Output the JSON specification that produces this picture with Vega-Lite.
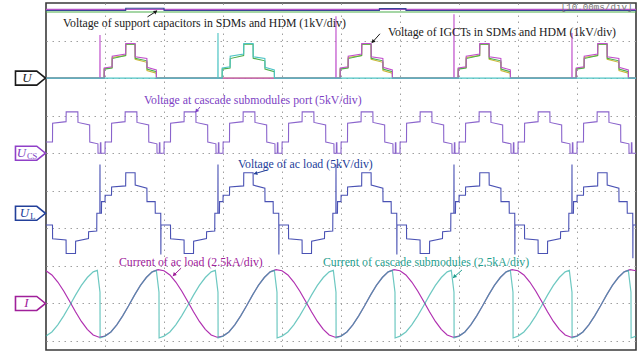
{
 "$schema": "https://vega.github.io/schema/vega-lite/v6.json",
 "width": 590, "height": 347,
 "autosize": {"type": "none"},
 "padding": {"left": 46, "top": 3, "right": 5, "bottom": 4},
 "background": "white",
 "config": {"view": {"stroke": "#3a3a3a", "strokeWidth": 1.6}},
 "datasets": {
  "cap_grn": [{"t":0,"v":8.76},{"t":100,"v":8.76}],
  "cap_pur": [{"t":0,"v":8.83},{"t":100,"v":8.83}],
  "cap_navy": [{"t":0,"v":8.8},{"t":13.5,"v":8.8},{"t":13.52,"v":8.86},{"t":20,"v":8.86},{"t":20.02,"v":8.8},{"t":56.5,"v":8.8},{"t":56.52,"v":8.85},{"t":61,"v":8.85},{"t":61.02,"v":8.8},{"t":100,"v":8.8}],
  "u_yel": [{"t":0,"v":7},
   {"t":9.85,"v":7},{"t":9.87,"v":7.25},{"t":11.2,"v":7.28},{"t":11.22,"v":7.55},{"t":13.5,"v":7.6},{"t":13.52,"v":7.9},{"t":15.1,"v":7.9},{"t":15.12,"v":7.5},{"t":17.1,"v":7.42},{"t":17.12,"v":7.2},{"t":18.7,"v":7.13},{"t":18.72,"v":7},
   {"t":49.85,"v":7},{"t":49.87,"v":7.25},{"t":51.2,"v":7.28},{"t":51.22,"v":7.55},{"t":53.5,"v":7.6},{"t":53.52,"v":7.9},{"t":55.1,"v":7.9},{"t":55.12,"v":7.5},{"t":57.1,"v":7.42},{"t":57.12,"v":7.2},{"t":58.7,"v":7.13},{"t":58.72,"v":7},
   {"t":69.85,"v":7},{"t":69.87,"v":7.25},{"t":71.2,"v":7.28},{"t":71.22,"v":7.55},{"t":73.5,"v":7.6},{"t":73.52,"v":7.9},{"t":75.1,"v":7.9},{"t":75.12,"v":7.5},{"t":77.1,"v":7.42},{"t":77.12,"v":7.2},{"t":78.7,"v":7.13},{"t":78.72,"v":7},
   {"t":89.85,"v":7},{"t":89.87,"v":7.25},{"t":91.2,"v":7.28},{"t":91.22,"v":7.55},{"t":93.5,"v":7.6},{"t":93.52,"v":7.9},{"t":95.1,"v":7.9},{"t":95.12,"v":7.5},{"t":97.1,"v":7.42},{"t":97.12,"v":7.2},{"t":98.7,"v":7.13},{"t":98.72,"v":7},
   {"t":100,"v":7}],
  "u_grn": [{"t":0,"v":7},
   {"t":9.85,"v":7},{"t":9.87,"v":7.24},{"t":11.2,"v":7.27},{"t":11.22,"v":7.52},{"t":13.5,"v":7.6},{"t":13.52,"v":7.9},{"t":15.1,"v":7.9},{"t":15.12,"v":7.53},{"t":17.1,"v":7.46},{"t":17.12,"v":7.24},{"t":18.7,"v":7.17},{"t":18.72,"v":7},
   {"t":29.85,"v":7},{"t":29.87,"v":7.24},{"t":31.2,"v":7.27},{"t":31.22,"v":7.52},{"t":33.5,"v":7.6},{"t":33.52,"v":7.9},{"t":35.1,"v":7.9},{"t":35.12,"v":7.53},{"t":37.1,"v":7.46},{"t":37.12,"v":7.24},{"t":38.7,"v":7.17},{"t":38.72,"v":7},
   {"t":49.85,"v":7},{"t":49.87,"v":7.24},{"t":51.2,"v":7.27},{"t":51.22,"v":7.52},{"t":53.5,"v":7.6},{"t":53.52,"v":7.9},{"t":55.1,"v":7.9},{"t":55.12,"v":7.53},{"t":57.1,"v":7.46},{"t":57.12,"v":7.24},{"t":58.7,"v":7.17},{"t":58.72,"v":7},
   {"t":69.85,"v":7},{"t":69.87,"v":7.24},{"t":71.2,"v":7.27},{"t":71.22,"v":7.52},{"t":73.5,"v":7.6},{"t":73.52,"v":7.9},{"t":75.1,"v":7.9},{"t":75.12,"v":7.53},{"t":77.1,"v":7.46},{"t":77.12,"v":7.24},{"t":78.7,"v":7.17},{"t":78.72,"v":7},
   {"t":89.85,"v":7},{"t":89.87,"v":7.24},{"t":91.2,"v":7.27},{"t":91.22,"v":7.52},{"t":93.5,"v":7.6},{"t":93.52,"v":7.9},{"t":95.1,"v":7.9},{"t":95.12,"v":7.53},{"t":97.1,"v":7.46},{"t":97.12,"v":7.24},{"t":98.7,"v":7.17},{"t":98.72,"v":7},
   {"t":100,"v":7}],
  "u_pur": [{"t":0,"v":7},
   {"t":9.13,"v":7},{"t":9.15,"v":8.15},{"t":9.17,"v":7},{"t":9.85,"v":7},{"t":9.87,"v":7.27},{"t":11.2,"v":7.3},{"t":11.22,"v":7.58},{"t":13.5,"v":7.64},{"t":13.52,"v":7.92},{"t":15.1,"v":7.92},{"t":15.12,"v":7.57},{"t":17.1,"v":7.52},{"t":17.12,"v":7.29},{"t":18.7,"v":7.22},{"t":18.72,"v":7},
   {"t":49.13,"v":7},{"t":49.15,"v":8.65},{"t":49.17,"v":7},{"t":49.85,"v":7},{"t":49.87,"v":7.27},{"t":51.2,"v":7.3},{"t":51.22,"v":7.58},{"t":53.5,"v":7.64},{"t":53.52,"v":7.92},{"t":55.1,"v":7.92},{"t":55.12,"v":7.57},{"t":57.1,"v":7.52},{"t":57.12,"v":7.29},{"t":58.7,"v":7.22},{"t":58.72,"v":7},
   {"t":69.13,"v":7},{"t":69.15,"v":8.7},{"t":69.17,"v":7},{"t":69.85,"v":7},{"t":69.87,"v":7.27},{"t":71.2,"v":7.3},{"t":71.22,"v":7.58},{"t":73.5,"v":7.64},{"t":73.52,"v":7.92},{"t":75.1,"v":7.92},{"t":75.12,"v":7.57},{"t":77.1,"v":7.52},{"t":77.12,"v":7.29},{"t":78.7,"v":7.22},{"t":78.72,"v":7},
   {"t":89.13,"v":7},{"t":89.15,"v":8.2},{"t":89.17,"v":7},{"t":89.85,"v":7},{"t":89.87,"v":7.27},{"t":91.2,"v":7.3},{"t":91.22,"v":7.58},{"t":93.5,"v":7.64},{"t":93.52,"v":7.92},{"t":95.1,"v":7.92},{"t":95.12,"v":7.57},{"t":97.1,"v":7.52},{"t":97.12,"v":7.29},{"t":98.7,"v":7.22},{"t":98.72,"v":7},
   {"t":100,"v":7}],
  "u_teal": [{"t":0,"v":7},
   {"t":29.13,"v":7},{"t":29.15,"v":8.2},{"t":29.17,"v":7},{"t":29.85,"v":7},{"t":29.87,"v":7.27},{"t":31.2,"v":7.3},{"t":31.22,"v":7.58},{"t":33.5,"v":7.64},{"t":33.52,"v":7.92},{"t":35.1,"v":7.92},{"t":35.12,"v":7.57},{"t":37.1,"v":7.52},{"t":37.12,"v":7.29},{"t":38.7,"v":7.22},{"t":38.72,"v":7},
   {"t":100,"v":7}],
  "ucs": [
   {"t":0,"v":5.3},{"t":1.1,"v":5.3},{"t":1.12,"v":5.8},{"t":3.4,"v":5.84},{"t":3.42,"v":6.1},{"t":5.4,"v":6.1},{"t":5.42,"v":5.82},{"t":7.4,"v":5.75},{"t":7.42,"v":5.3},{"t":8.8,"v":5.25},{"t":8.82,"v":5},{"t":9.2,"v":5},{"t":9.22,"v":5.28},{"t":9.3,"v":5.28},{"t":9.32,"v":5},
   {"t":10,"v":5},{"t":10.02,"v":5.3},{"t":11.1,"v":5.3},{"t":11.12,"v":5.8},{"t":13.4,"v":5.84},{"t":13.42,"v":6.1},{"t":15.4,"v":6.1},{"t":15.42,"v":5.82},{"t":17.4,"v":5.75},{"t":17.42,"v":5.3},{"t":18.8,"v":5.25},{"t":18.82,"v":5},{"t":19.2,"v":5},{"t":19.22,"v":5.28},{"t":19.3,"v":5.28},{"t":19.32,"v":5},
   {"t":20,"v":5},{"t":20.02,"v":5.3},{"t":21.1,"v":5.3},{"t":21.12,"v":5.8},{"t":23.4,"v":5.84},{"t":23.42,"v":6.1},{"t":25.4,"v":6.1},{"t":25.42,"v":5.82},{"t":27.4,"v":5.75},{"t":27.42,"v":5.3},{"t":28.8,"v":5.25},{"t":28.82,"v":5},{"t":29.2,"v":5},{"t":29.22,"v":5.28},{"t":29.3,"v":5.28},{"t":29.32,"v":5},
   {"t":30,"v":5},{"t":30.02,"v":5.3},{"t":31.1,"v":5.3},{"t":31.12,"v":5.8},{"t":33.4,"v":5.84},{"t":33.42,"v":6.1},{"t":35.4,"v":6.1},{"t":35.42,"v":5.82},{"t":37.4,"v":5.75},{"t":37.42,"v":5.3},{"t":38.8,"v":5.25},{"t":38.82,"v":5},{"t":39.2,"v":5},{"t":39.22,"v":5.28},{"t":39.3,"v":5.28},{"t":39.32,"v":5},
   {"t":40,"v":5},{"t":40.02,"v":5.3},{"t":41.1,"v":5.3},{"t":41.12,"v":5.8},{"t":43.4,"v":5.84},{"t":43.42,"v":6.1},{"t":45.4,"v":6.1},{"t":45.42,"v":5.82},{"t":47.4,"v":5.75},{"t":47.42,"v":5.3},{"t":48.8,"v":5.25},{"t":48.82,"v":5},{"t":49.2,"v":5},{"t":49.22,"v":5.28},{"t":49.3,"v":5.28},{"t":49.32,"v":5},
   {"t":50,"v":5},{"t":50.02,"v":5.3},{"t":51.1,"v":5.3},{"t":51.12,"v":5.8},{"t":53.4,"v":5.84},{"t":53.42,"v":6.1},{"t":55.4,"v":6.1},{"t":55.42,"v":5.82},{"t":57.4,"v":5.75},{"t":57.42,"v":5.3},{"t":58.8,"v":5.25},{"t":58.82,"v":5},{"t":59.2,"v":5},{"t":59.22,"v":5.28},{"t":59.3,"v":5.28},{"t":59.32,"v":5},
   {"t":60,"v":5},{"t":60.02,"v":5.3},{"t":61.1,"v":5.3},{"t":61.12,"v":5.8},{"t":63.4,"v":5.84},{"t":63.42,"v":6.1},{"t":65.4,"v":6.1},{"t":65.42,"v":5.82},{"t":67.4,"v":5.75},{"t":67.42,"v":5.3},{"t":68.8,"v":5.25},{"t":68.82,"v":5},{"t":69.2,"v":5},{"t":69.22,"v":5.28},{"t":69.3,"v":5.28},{"t":69.32,"v":5},
   {"t":70,"v":5},{"t":70.02,"v":5.3},{"t":71.1,"v":5.3},{"t":71.12,"v":5.8},{"t":73.4,"v":5.84},{"t":73.42,"v":6.1},{"t":75.4,"v":6.1},{"t":75.42,"v":5.82},{"t":77.4,"v":5.75},{"t":77.42,"v":5.3},{"t":78.8,"v":5.25},{"t":78.82,"v":5},{"t":79.2,"v":5},{"t":79.22,"v":5.28},{"t":79.3,"v":5.28},{"t":79.32,"v":5},
   {"t":80,"v":5},{"t":80.02,"v":5.3},{"t":81.1,"v":5.3},{"t":81.12,"v":5.8},{"t":83.4,"v":5.84},{"t":83.42,"v":6.1},{"t":85.4,"v":6.1},{"t":85.42,"v":5.82},{"t":87.4,"v":5.75},{"t":87.42,"v":5.3},{"t":88.8,"v":5.25},{"t":88.82,"v":5},{"t":89.2,"v":5},{"t":89.22,"v":5.28},{"t":89.3,"v":5.28},{"t":89.32,"v":5},
   {"t":90,"v":5},{"t":90.02,"v":5.3},{"t":91.1,"v":5.3},{"t":91.12,"v":5.8},{"t":93.4,"v":5.84},{"t":93.42,"v":6.1},{"t":95.4,"v":6.1},{"t":95.42,"v":5.82},{"t":97.4,"v":5.75},{"t":97.42,"v":5.3},{"t":98.8,"v":5.25},{"t":98.82,"v":5},{"t":99.2,"v":5},{"t":99.22,"v":5.28},{"t":99.3,"v":5.28},{"t":99.32,"v":5},
   {"t":100,"v":5}],
  "ul": [
   {"t":0,"v":3.09},{"t":1.1,"v":3.09},{"t":1.12,"v":2.72},{"t":3.4,"v":2.69},{"t":3.42,"v":2.33},{"t":5,"v":2.33},{"t":5.02,"v":2.66},{"t":7.2,"v":2.73},{"t":7.22,"v":2.91},{"t":8.6,"v":2.93},{"t":8.62,"v":3.4},{"t":9.13,"v":3.4},{"t":9.15,"v":4.7},{"t":9.17,"v":3.4},{"t":9.4,"v":3.4},{"t":9.42,"v":3.71},{"t":10,"v":3.71},{"t":10.02,"v":3.88},{"t":11.1,"v":3.88},{"t":11.12,"v":4.1},{"t":13.5,"v":4.13},{"t":13.52,"v":4.48},{"t":15.1,"v":4.48},{"t":15.12,"v":4.15},{"t":17.1,"v":4.07},{"t":17.12,"v":3.71},{"t":18.5,"v":3.71},{"t":18.52,"v":3.4},{"t":19.45,"v":3.4},{"t":19.47,"v":2.3},{"t":19.49,"v":3.09},
   {"t":21.1,"v":3.09},{"t":21.12,"v":2.72},{"t":23.4,"v":2.69},{"t":23.42,"v":2.33},{"t":25,"v":2.33},{"t":25.02,"v":2.66},{"t":27.2,"v":2.73},{"t":27.22,"v":2.91},{"t":28.6,"v":2.93},{"t":28.62,"v":3.4},{"t":29.13,"v":3.4},{"t":29.15,"v":4.7},{"t":29.17,"v":3.4},{"t":29.4,"v":3.4},{"t":29.42,"v":3.71},{"t":30,"v":3.71},{"t":30.02,"v":3.88},{"t":31.1,"v":3.88},{"t":31.12,"v":4.1},{"t":33.5,"v":4.13},{"t":33.52,"v":4.48},{"t":35.1,"v":4.48},{"t":35.12,"v":4.15},{"t":37.1,"v":4.07},{"t":37.12,"v":3.71},{"t":38.5,"v":3.71},{"t":38.52,"v":3.4},{"t":39.45,"v":3.4},{"t":39.47,"v":2.3},{"t":39.49,"v":3.09},
   {"t":41.1,"v":3.09},{"t":41.12,"v":2.72},{"t":43.4,"v":2.69},{"t":43.42,"v":2.33},{"t":45,"v":2.33},{"t":45.02,"v":2.66},{"t":47.2,"v":2.73},{"t":47.22,"v":2.91},{"t":48.6,"v":2.93},{"t":48.62,"v":3.4},{"t":49.13,"v":3.4},{"t":49.15,"v":4.7},{"t":49.17,"v":3.4},{"t":49.4,"v":3.4},{"t":49.42,"v":3.71},{"t":50,"v":3.71},{"t":50.02,"v":3.88},{"t":51.1,"v":3.88},{"t":51.12,"v":4.1},{"t":53.5,"v":4.13},{"t":53.52,"v":4.48},{"t":55.1,"v":4.48},{"t":55.12,"v":4.15},{"t":57.1,"v":4.07},{"t":57.12,"v":3.71},{"t":58.5,"v":3.71},{"t":58.52,"v":3.4},{"t":59.45,"v":3.4},{"t":59.47,"v":2.3},{"t":59.49,"v":3.09},
   {"t":61.1,"v":3.09},{"t":61.12,"v":2.72},{"t":63.4,"v":2.69},{"t":63.42,"v":2.33},{"t":65,"v":2.33},{"t":65.02,"v":2.66},{"t":67.2,"v":2.73},{"t":67.22,"v":2.91},{"t":68.6,"v":2.93},{"t":68.62,"v":3.4},{"t":69.13,"v":3.4},{"t":69.15,"v":4.7},{"t":69.17,"v":3.4},{"t":69.4,"v":3.4},{"t":69.42,"v":3.71},{"t":70,"v":3.71},{"t":70.02,"v":3.88},{"t":71.1,"v":3.88},{"t":71.12,"v":4.1},{"t":73.5,"v":4.13},{"t":73.52,"v":4.48},{"t":75.1,"v":4.48},{"t":75.12,"v":4.15},{"t":77.1,"v":4.07},{"t":77.12,"v":3.71},{"t":78.5,"v":3.71},{"t":78.52,"v":3.4},{"t":79.45,"v":3.4},{"t":79.47,"v":2.3},{"t":79.49,"v":3.09},
   {"t":81.1,"v":3.09},{"t":81.12,"v":2.72},{"t":83.4,"v":2.69},{"t":83.42,"v":2.33},{"t":85,"v":2.33},{"t":85.02,"v":2.66},{"t":87.2,"v":2.73},{"t":87.22,"v":2.91},{"t":88.6,"v":2.93},{"t":88.62,"v":3.4},{"t":89.13,"v":3.4},{"t":89.15,"v":4.7},{"t":89.17,"v":3.4},{"t":89.4,"v":3.4},{"t":89.42,"v":3.71},{"t":90,"v":3.71},{"t":90.02,"v":3.88},{"t":91.1,"v":3.88},{"t":91.12,"v":4.1},{"t":93.5,"v":4.13},{"t":93.52,"v":4.48},{"t":95.1,"v":4.48},{"t":95.12,"v":4.15},{"t":97.1,"v":4.07},{"t":97.12,"v":3.71},{"t":98.5,"v":3.71},{"t":98.52,"v":3.4},{"t":99.45,"v":3.4},{"t":99.47,"v":2.2},{"t":99.49,"v":3.09},
   {"t":100,"v":3.09}],
  "iload": [
   {"t":0,"v":1.87},{"t":1,"v":1.76},{"t":2,"v":1.57},{"t":3,"v":1.33},{"t":4,"v":1.06},{"t":5,"v":0.78},{"t":6,"v":0.52},{"t":7,"v":0.31},{"t":8,"v":0.16},{"t":9,"v":0.1},{"t":10,"v":0.13},{"t":11,"v":0.24},{"t":12,"v":0.43},{"t":13,"v":0.67},{"t":14,"v":0.94},{"t":15,"v":1.22},{"t":16,"v":1.48},{"t":17,"v":1.69},{"t":18,"v":1.84},{"t":19,"v":1.9},
   {"t":20,"v":1.87},{"t":21,"v":1.76},{"t":22,"v":1.57},{"t":23,"v":1.33},{"t":24,"v":1.06},{"t":25,"v":0.78},{"t":26,"v":0.52},{"t":27,"v":0.31},{"t":28,"v":0.16},{"t":29,"v":0.1},{"t":30,"v":0.13},{"t":31,"v":0.24},{"t":32,"v":0.43},{"t":33,"v":0.67},{"t":34,"v":0.94},{"t":35,"v":1.22},{"t":36,"v":1.48},{"t":37,"v":1.69},{"t":38,"v":1.84},{"t":39,"v":1.9},
   {"t":40,"v":1.87},{"t":41,"v":1.76},{"t":42,"v":1.57},{"t":43,"v":1.33},{"t":44,"v":1.06},{"t":45,"v":0.78},{"t":46,"v":0.52},{"t":47,"v":0.31},{"t":48,"v":0.16},{"t":49,"v":0.1},{"t":50,"v":0.13},{"t":51,"v":0.24},{"t":52,"v":0.43},{"t":53,"v":0.67},{"t":54,"v":0.94},{"t":55,"v":1.22},{"t":56,"v":1.48},{"t":57,"v":1.69},{"t":58,"v":1.84},{"t":59,"v":1.9},
   {"t":60,"v":1.87},{"t":61,"v":1.76},{"t":62,"v":1.57},{"t":63,"v":1.33},{"t":64,"v":1.06},{"t":65,"v":0.78},{"t":66,"v":0.52},{"t":67,"v":0.31},{"t":68,"v":0.16},{"t":69,"v":0.1},{"t":70,"v":0.13},{"t":71,"v":0.24},{"t":72,"v":0.43},{"t":73,"v":0.67},{"t":74,"v":0.94},{"t":75,"v":1.22},{"t":76,"v":1.48},{"t":77,"v":1.69},{"t":78,"v":1.84},{"t":79,"v":1.9},
   {"t":80,"v":1.87},{"t":81,"v":1.76},{"t":82,"v":1.57},{"t":83,"v":1.33},{"t":84,"v":1.06},{"t":85,"v":0.78},{"t":86,"v":0.52},{"t":87,"v":0.31},{"t":88,"v":0.16},{"t":89,"v":0.1},{"t":90,"v":0.13},{"t":91,"v":0.24},{"t":92,"v":0.43},{"t":93,"v":0.67},{"t":94,"v":0.94},{"t":95,"v":1.22},{"t":96,"v":1.48},{"t":97,"v":1.69},{"t":98,"v":1.84},{"t":99,"v":1.9},
   {"t":100,"v":1.87}],
  "icasc": [
   {"t":0,"v":0.13},{"t":1,"v":0.24},{"t":2,"v":0.43},{"t":3,"v":0.67},{"t":4,"v":0.94},{"t":5,"v":1.22},{"t":6,"v":1.48},{"t":7,"v":1.69},{"t":8,"v":1.84},{"t":8.7,"v":1.88},{"t":9.15,"v":1.3},{"t":9.17,"v":0.08},
   {"t":10,"v":0.13},{"t":11,"v":0.24},{"t":12,"v":0.43},{"t":13,"v":0.67},{"t":14,"v":0.94},{"t":15,"v":1.22},{"t":16,"v":1.48},{"t":17,"v":1.69},{"t":18,"v":1.84},{"t":18.7,"v":1.88},{"t":19.15,"v":1.3},{"t":19.17,"v":0.08},
   {"t":20,"v":0.13},{"t":21,"v":0.24},{"t":22,"v":0.43},{"t":23,"v":0.67},{"t":24,"v":0.94},{"t":25,"v":1.22},{"t":26,"v":1.48},{"t":27,"v":1.69},{"t":28,"v":1.84},{"t":28.7,"v":1.88},{"t":29.15,"v":1.3},{"t":29.17,"v":0.08},
   {"t":30,"v":0.13},{"t":31,"v":0.24},{"t":32,"v":0.43},{"t":33,"v":0.67},{"t":34,"v":0.94},{"t":35,"v":1.22},{"t":36,"v":1.48},{"t":37,"v":1.69},{"t":38,"v":1.84},{"t":38.7,"v":1.88},{"t":39.15,"v":1.3},{"t":39.17,"v":0.08},
   {"t":40,"v":0.13},{"t":41,"v":0.24},{"t":42,"v":0.43},{"t":43,"v":0.67},{"t":44,"v":0.94},{"t":45,"v":1.22},{"t":46,"v":1.48},{"t":47,"v":1.69},{"t":48,"v":1.84},{"t":48.7,"v":1.88},{"t":49.15,"v":1.3},{"t":49.17,"v":0.08},
   {"t":50,"v":0.13},{"t":51,"v":0.24},{"t":52,"v":0.43},{"t":53,"v":0.67},{"t":54,"v":0.94},{"t":55,"v":1.22},{"t":56,"v":1.48},{"t":57,"v":1.69},{"t":58,"v":1.84},{"t":58.7,"v":1.88},{"t":59.15,"v":1.3},{"t":59.17,"v":0.08},
   {"t":60,"v":0.13},{"t":61,"v":0.24},{"t":62,"v":0.43},{"t":63,"v":0.67},{"t":64,"v":0.94},{"t":65,"v":1.22},{"t":66,"v":1.48},{"t":67,"v":1.69},{"t":68,"v":1.84},{"t":68.7,"v":1.88},{"t":69.15,"v":1.3},{"t":69.17,"v":0.08},
   {"t":70,"v":0.13},{"t":71,"v":0.24},{"t":72,"v":0.43},{"t":73,"v":0.67},{"t":74,"v":0.94},{"t":75,"v":1.22},{"t":76,"v":1.48},{"t":77,"v":1.69},{"t":78,"v":1.84},{"t":78.7,"v":1.88},{"t":79.15,"v":1.3},{"t":79.17,"v":0.08},
   {"t":80,"v":0.13},{"t":81,"v":0.24},{"t":82,"v":0.43},{"t":83,"v":0.67},{"t":84,"v":0.94},{"t":85,"v":1.22},{"t":86,"v":1.48},{"t":87,"v":1.69},{"t":88,"v":1.84},{"t":88.7,"v":1.88},{"t":89.15,"v":1.3},{"t":89.17,"v":0.08},
   {"t":90,"v":0.13},{"t":91,"v":0.24},{"t":92,"v":0.43},{"t":93,"v":0.67},{"t":94,"v":0.94},{"t":95,"v":1.22},{"t":96,"v":1.48},{"t":97,"v":1.69},{"t":98,"v":1.84},{"t":98.7,"v":1.88},{"t":99.15,"v":1.3},{"t":99.17,"v":0.08},
   {"t":100,"v":0.13}],
  "notes": [
   {"t":2.88,"v":8.47,"txt":"Voltage of support capacitors in SDMs and HDM (1kV/div)","ch":"u"},
   {"t":57.97,"v":8.22,"txt":"Voltage of IGCTs in SDMs and HDM (1kV/div)","ch":"u"},
   {"t":16.61,"v":6.42,"txt":"Voltage at cascade submodules port (5kV/div)","ch":"ucs"},
   {"t":32.54,"v":4.71,"txt":"Voltage of ac load (5kV/div)","ch":"ul"},
   {"t":12.37,"v":2.11,"txt":"Current of ac load (2.5kA/div)","ch":"il"},
   {"t":46.95,"v":2.11,"txt":"Current of cascade submodules (2.5kA/div)","ch":"ic"}],
  "arrows": [
   {"t":17.2,"v":8.63,"t2":18.8,"v2":8.79,"ch":"u"},
   {"t":56.6,"v":8.18,"t2":55.25,"v2":7.94,"ch":"u"},
   {"t":26.1,"v":6.23,"t2":25.4,"v2":6.1,"ch":"ucs"},
   {"t":37.46,"v":4.55,"t2":35.25,"v2":4.45,"ch":"ul"},
   {"t":22.9,"v":1.94,"t2":21.5,"v2":1.73,"ch":"il"},
   {"t":70.5,"v":1.89,"t2":69.0,"v2":1.68,"ch":"ic"}],
  "heads": [
   {"t":18.6,"v":8.77,"ch":"u","ang":56},
   {"t":55.4,"v":7.97,"ch":"u","ang":222},
   {"t":25.5,"v":6.12,"ch":"ucs","ang":219},
   {"t":35.5,"v":4.46,"ch":"ul","ang":253},
   {"t":21.7,"v":1.76,"ch":"il","ang":225},
   {"t":69.2,"v":1.71,"ch":"ic","ang":228}],
  "flags": [
   {"t":-2.63,"v":7.0,"ch":"u"},
   {"t":-2.63,"v":5.0,"ch":"ucs"},
   {"t":-2.63,"v":3.4,"ch":"ul"},
   {"t":-2.63,"v":1.0,"ch":"il"}],
  "flagtext": [
   {"t":-3.22,"v":7.0,"txt":"U","ch":"u"},
   {"t":-4.15,"v":5.0,"txt":"U","ch":"ucs"},
   {"t":-3.65,"v":3.4,"txt":"U","ch":"ul"},
   {"t":-3.3,"v":1.0,"txt":"I","ch":"il"}],
  "flagsub": [
   {"t":-2.35,"v":5.0,"txt":"CS","ch":"ucs"},
   {"t":-2.25,"v":3.4,"txt":"L","ch":"ul"}],
  "scale": [{"t":99.4,"v":8.9,"txt":"[10.00ms/div]"}]
 },
 "encoding": {
  "x": {"field": "t", "type": "quantitative", "scale": {"domain": [0, 100], "nice": false, "zero": false},
        "axis": {"values": [10,20,30,40,50,60,70,80,90], "labels": false, "ticks": false, "domain": false, "title": null, "grid": true, "gridColor": "#a0a0a0", "gridDash": [1.5, 4.5], "gridWidth": 1}},
  "y": {"field": "v", "type": "quantitative", "scale": {"domain": [-0.24, 9], "nice": false, "zero": false},
        "axis": {"values": [0,1,2,3,4,5,6,7,8], "labels": false, "ticks": false, "domain": false, "title": null, "grid": true, "gridColor": "#a0a0a0", "gridDash": [1.5, 4.5], "gridWidth": 1}}
 },
 "layer": [
  {"data": {"name": "cap_grn"}, "mark": {"type": "line", "color": "#4cae4c", "strokeWidth": 1.2}},
  {"data": {"name": "cap_pur"}, "mark": {"type": "line", "color": "#b455c8", "strokeWidth": 1.2}},
  {"data": {"name": "cap_navy"}, "mark": {"type": "line", "color": "#3a4696", "strokeWidth": 1.2}},
  {"data": {"name": "u_yel"}, "mark": {"type": "line", "color": "#c9b836", "strokeWidth": 1.1}},
  {"data": {"name": "u_grn"}, "mark": {"type": "line", "color": "#4cae4c", "strokeWidth": 1.1}},
  {"data": {"name": "u_pur"}, "mark": {"type": "line", "color": "#c050cc", "strokeWidth": 1.1}},
  {"data": {"name": "u_teal"}, "mark": {"type": "line", "color": "#4cc4c4", "strokeWidth": 1.1}},
  {"data": {"name": "ucs"}, "mark": {"type": "line", "color": "#8a64cc", "strokeWidth": 1.1}},
  {"data": {"name": "ul"}, "mark": {"type": "line", "color": "#4a52b4", "strokeWidth": 1.1}},
  {"data": {"name": "iload"}, "mark": {"type": "line", "color": "#b030b0", "strokeWidth": 1.2}},
  {"data": {"name": "icasc"}, "mark": {"type": "line", "color": "#2fb0a6", "strokeWidth": 1.2, "opacity": 0.7}},
  {"data": {"name": "notes"}, "mark": {"type": "text", "font": "Liberation Serif", "fontSize": 11.8, "align": "left", "baseline": "middle"},
   "encoding": {"text": {"field": "txt"}, "color": {"field": "ch", "type": "nominal", "legend": null, "scale": {"domain": ["u","ucs","ul","il","ic"], "range": ["#1a1a1a","#7d3fc4","#23409a","#a0209a","#1f9e8e"]}}}},
  {"data": {"name": "arrows"}, "mark": {"type": "rule", "strokeWidth": 1},
   "encoding": {"x2": {"field": "t2"}, "y2": {"field": "v2"}, "color": {"field": "ch", "type": "nominal", "legend": null, "scale": {"domain": ["u","ucs","ul","il","ic"], "range": ["#1a1a1a","#7d3fc4","#23409a","#a0209a","#1f9e8e"]}}}},
  {"data": {"name": "heads"}, "mark": {"type": "point", "shape": "triangle-up", "filled": true, "size": 18, "opacity": 1},
   "encoding": {"angle": {"field": "ang", "type": "quantitative", "scale": null}, "color": {"field": "ch", "type": "nominal", "legend": null, "scale": {"domain": ["u","ucs","ul","il","ic"], "range": ["#1a1a1a","#7d3fc4","#23409a","#a0209a","#1f9e8e"]}}}},
  {"data": {"name": "flags"}, "mark": {"type": "point", "shape": "M-1,-0.467L0.42,-0.467L1,0L0.42,0.467L-1,0.467Z", "size": 900, "filled": true, "fill": "white", "strokeWidth": 1.6, "opacity": 1},
   "encoding": {"stroke": {"field": "ch", "type": "nominal", "legend": null, "scale": {"domain": ["u","ucs","ul","il","ic"], "range": ["#1a1a1a","#9040c8","#23409a","#a0209a","#1f9e8e"]}}}},
  {"data": {"name": "flagtext"}, "mark": {"type": "text", "font": "Liberation Serif", "fontStyle": "italic", "fontSize": 13, "align": "center", "baseline": "middle"},
   "encoding": {"text": {"field": "txt"}, "color": {"field": "ch", "type": "nominal", "legend": null, "scale": {"domain": ["u","ucs","ul","il","ic"], "range": ["#1a1a1a","#7d3fc4","#23409a","#a0209a","#1f9e8e"]}}}},
  {"data": {"name": "flagsub"}, "mark": {"type": "text", "font": "Liberation Serif", "fontSize": 8.5, "align": "center", "baseline": "middle", "dy": 3},
   "encoding": {"text": {"field": "txt"}, "color": {"field": "ch", "type": "nominal", "legend": null, "scale": {"domain": ["u","ucs","ul","il","ic"], "range": ["#1a1a1a","#7d3fc4","#23409a","#a0209a","#1f9e8e"]}}}},
  {"data": {"name": "scale"}, "mark": {"type": "text", "font": "Liberation Mono", "fontSize": 9.2, "align": "right", "baseline": "middle", "color": "#777777"},
   "encoding": {"text": {"field": "txt"}}}
 ]
}
